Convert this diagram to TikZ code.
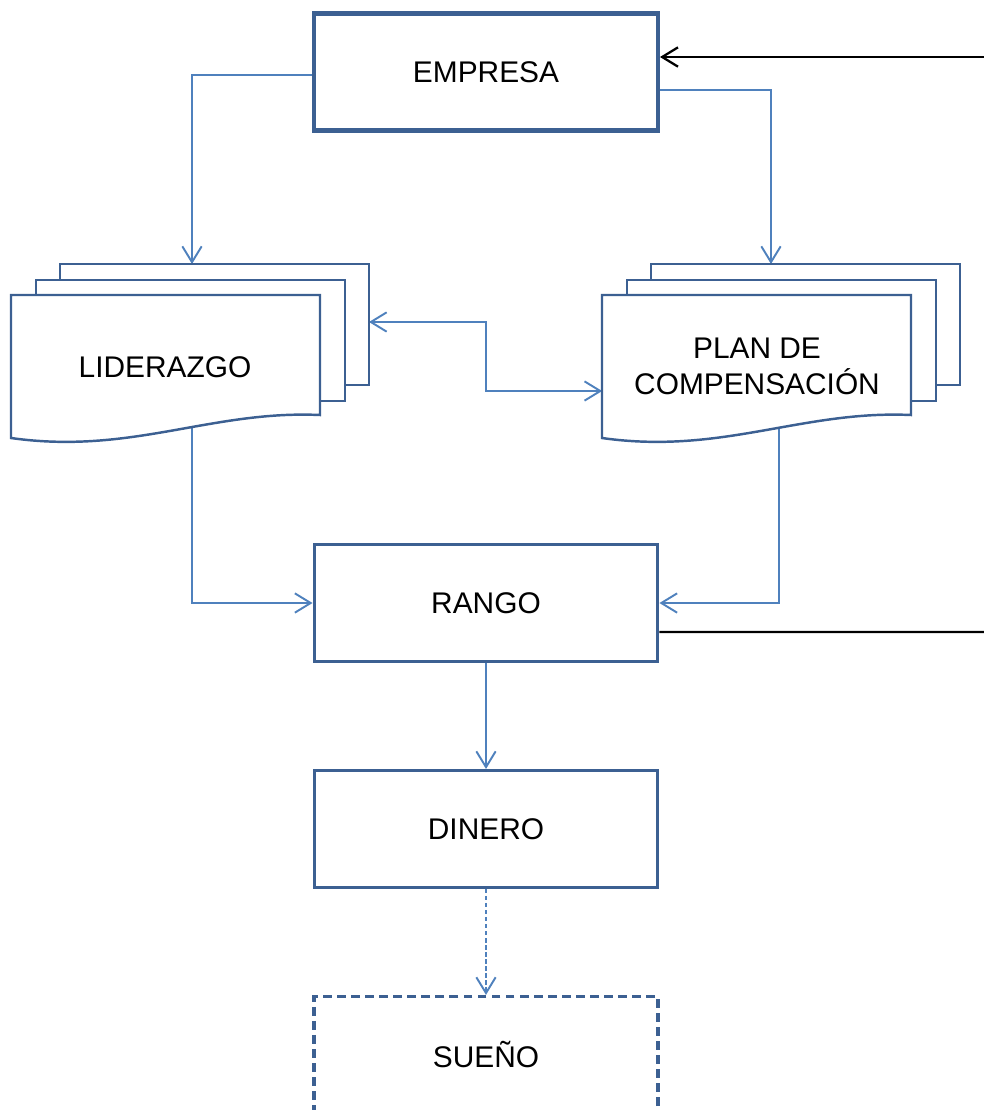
\documentclass[tikz,border=0pt]{standalone}
\usepackage{fontspec}
\setmainfont{Liberation Sans}
\usetikzlibrary{positioning, arrows.meta, calc}
\definecolor{boxblue}{RGB}{60,96,146}
\definecolor{linkblue}{RGB}{79,129,189}
\pgfdeclarelayer{back}
\pgfsetlayers{back,main}

\begin{document}
\begin{tikzpicture}[x=0.02cm, y=-0.02cm,
  >={Straight Barb[length=9pt,width=11pt]},
  every node/.style={font=\fontsize{17}{20.5}\selectfont},
  box/.style={draw=boxblue, line width=1.7pt, fill=white, minimum width=6.88cm, minimum height=2.34cm, align=center},
  page/.style={draw=boxblue, line width=1.4pt, fill=white},
  link/.style={draw=linkblue, line width=1.1pt, ->},
  feedback/.style={draw=black, line width=1.3pt}]

\useasboundingbox (0,0) rectangle (984,1110);

% Main column
\node[box, line width=2.3pt] (empresa) at (486,72) {EMPRESA};
\node[box] (rango) at (486,603) {RANGO};
\node[box, below=2.12cm of rango] (dinero) {DINERO};
\node[box, line width=1.8pt, dash pattern=on 5pt off 3pt, below=2.12cm of dinero] (sueno) {SUEÑO};

% Liderazgo stack
\begin{scope}[shift={(11,295)}]
  \foreach \dx/\dy in {49/-31, 25/-15}
    \draw[page] (\dx,\dy) rectangle ++(309,121);
  \draw[page] (0,0) -- (309,0) -- (309,120) .. controls (200,115) and (120,160) .. (0,143) -- cycle;
\end{scope}
\node[minimum width=6.18cm, minimum height=2.9cm] (lid) at (165,367) {LIDERAZGO};

% Plan stack
\begin{scope}[shift={(602,295)}]
  \foreach \dx/\dy in {49/-31, 25/-15}
    \draw[page] (\dx,\dy) rectangle ++(309,121);
  \draw[page] (0,0) -- (309,0) -- (309,120) .. controls (200,115) and (120,160) .. (0,143) -- cycle;
\end{scope}
\node[minimum width=6.18cm, minimum height=2.9cm, align=center] (plan) at (757,366) {PLAN DE\\COMPENSACIÓN};

% Connector ends
\coordinate (lidtop) at (192,264);
\coordinate (plantop) at (771,264);
\coordinate (lidx) at (192,0);
\coordinate (planx) at (779,0);
\coordinate (lidside) at (369,322);
\coordinate (planleft) at ([yshift=-0.5cm]plan.west);
\coordinate (fbin) at (984,57);
\coordinate (fbout) at (984,632);

% Arrows
\begin{pgfonlayer}{back}
\draw[link] ([yshift=-0.06cm]empresa.west) -| (lidtop);
\draw[link] ([yshift=-0.36cm]empresa.east) -| (plantop);
\draw[link, <->] (lidside) -| ($(lidside)!0.5!(planleft)$) |- (planleft);
\draw[link] (lidx |- lid.center) |- (rango.west);
\draw[link] (planx |- plan.center) |- (rango.east);
\end{pgfonlayer}
\draw[link] (rango) -- (dinero);
\draw[link, dash pattern=on 2.5pt off 1.5pt] (dinero) -- (sueno);

% Feedback loop
\draw[feedback] ([yshift=-0.58cm]rango.east) -- (fbout);
\draw[feedback, ->] (fbin) -- (empresa.east |- fbin);

\end{tikzpicture}
\end{document}
